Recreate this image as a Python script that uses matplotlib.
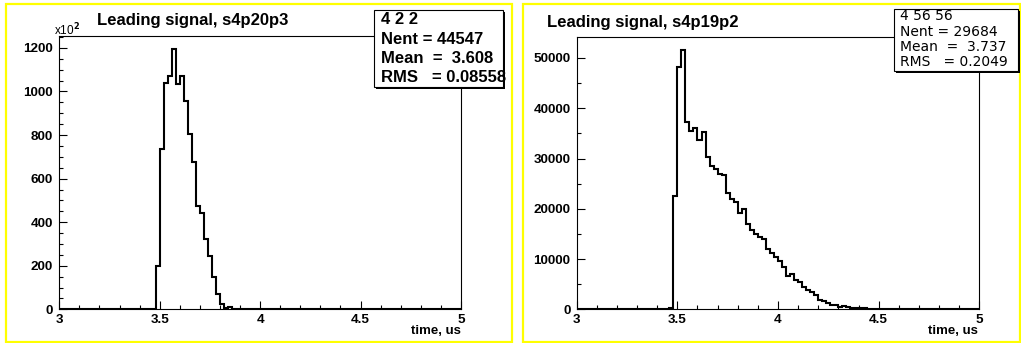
import matplotlib.pyplot as plt
import numpy as np
from matplotlib.patches import Rectangle
from matplotlib.ticker import MultipleLocator

plt.rcParams['font.family'] = ['Liberation Sans', 'DejaVu Sans']
plt.rcParams['font.weight'] = 'bold'

W, H = 1021, 343

# 100 bins of 0.02 us between 3 and 5 us
t_lo, t_hi, n_bins = 3.0, 5.0, 100

# s4p20p3, counts in units of 1e2, first filled bin starts at 3.48 us
left_start = 3.48
left_counts = [200, 735, 1040, 1070, 1195, 1034, 1070, 958, 805, 674,
               474, 442, 322, 243, 148, 72, 25, 6, 10]
left_tail_t = [4.42, 4.46]
left_tail_counts = [3, 3]
left_stats = ["4 2 2", "Nent = 44547", "Mean  =  3.608", "RMS   = 0.08558"]

# s4p19p2, first filled bin starts at 3.46 us
right_start = 3.46
right_counts = [300, 22580, 48200, 51650, 37250, 35480, 36150, 33760, 35290, 30320,
                28530, 27870, 26880, 26680, 23100, 22000, 21300, 19250, 20000, 16900,
                15700, 15000, 14300, 13950, 11950, 11120, 10500, 9670, 8340, 6690,
                7020, 5830, 5360, 4500, 3840, 3380, 2850, 1850, 1650, 1190,
                930, 800, 530, 660, 460, 330, 265, 200, 200, 150,
                150, 130, 120, 100, 100, 80, 60, 40, 30, 20]
right_tail_t = [4.76]
right_tail_counts = [80]
right_stats = ["4 56 56", "Nent = 29684", "Mean  =  3.737", "RMS   = 0.2049"]


def fill(start, counts, tail_t, tail_counts):
    edges = np.linspace(t_lo, t_hi, n_bins + 1)
    vals = np.zeros(n_bins)
    i0 = int(round((start - t_lo) / 0.02))
    vals[i0:i0 + len(counts)] = counts
    for t, c in zip(tail_t, tail_counts):
        vals[int(round((t - t_lo) / 0.02))] = c
    return edges, vals


def px_axes(fig, x0, y0, x1, y1):
    return fig.add_axes([x0 / W, 1 - y1 / H, (x1 - x0) / W, (y1 - y0) / H])


def frame(fig, x0, y0, x1, y1):
    fig.add_artist(Rectangle((x0 / W, 1 - y1 / H), (x1 - x0) / W, (y1 - y0) / H,
                             transform=fig.transFigure, fill=False,
                             ec='#ffff00', lw=1.6, zorder=1))


def stats_box(fig, x0, y0, x1, y1, lines, tx, ty, dy, size, weight, family):
    fig.add_artist(Rectangle(((x0 + 2) / W, 1 - (y1 + 2) / H), (x1 - x0) / W, (y1 - y0) / H,
                             transform=fig.transFigure, fc='black', ec='none', zorder=5))
    fig.add_artist(Rectangle((x0 / W, 1 - y1 / H), (x1 - x0) / W, (y1 - y0) / H,
                             transform=fig.transFigure, fc='white', ec='black',
                             lw=0.8, zorder=6))
    for k, s in enumerate(lines):
        fig.text(tx / W, 1 - (ty + k * dy) / H, s, ha='left', va='center',
                 fontsize=size, fontweight=weight, family=family, zorder=7)


def style_axes(ax, ymax, ymajor, yminor):
    ax.set_xlim(t_lo, t_hi)
    ax.set_ylim(0, ymax)
    ax.xaxis.set_major_locator(MultipleLocator(0.5))
    ax.xaxis.set_minor_locator(MultipleLocator(0.1))
    ax.yaxis.set_major_locator(MultipleLocator(ymajor))
    ax.yaxis.set_minor_locator(MultipleLocator(yminor))
    ax.xaxis.set_major_formatter(plt.FuncFormatter(lambda v, p: f"{v:g}"))
    ax.tick_params(which='both', direction='in', top=False, right=False,
                   labelsize=9.7, width=0.8, pad=4.5)
    ax.tick_params(axis='x', pad=3.5)
    ax.tick_params(which='major', length=5.8)
    ax.tick_params(which='minor', length=3.2)
    for sp in ax.spines.values():
        sp.set_linewidth(0.8)


fig = plt.figure(figsize=(W / 100, H / 100), dpi=100)

frame(fig, 5.5, 3.5, 511.5, 341.5)
frame(fig, 522.5, 3.5, 1019.5, 341.5)

# left panel
ax1 = px_axes(fig, 59.3, 36, 461, 309.3)
edges, vals = fill(left_start, left_counts, left_tail_t, left_tail_counts)
ax1.stairs(vals, edges, color='black', lw=1.5)
style_axes(ax1, max(left_counts) * 1.05, 200, 50)
fig.text(97 / W, 1 - 20 / H, "Leading signal, s4p20p3", fontsize=12,
         fontweight='bold', ha='left', va='center')
fig.text(54 / W, 1 - 29.5 / H, r"x10$^{2}$", fontsize=8.5, fontweight='normal',
         ha='left', va='center')
fig.text(461 / W, 1 - 331.5 / H, "time, us", fontsize=9.5, ha='right', va='center')
stats_box(fig, 373.5, 10, 502.5, 87.5, left_stats, 380.5, 20, 19.2, 12, 'bold',
          ['Liberation Sans'])

# right panel
ax2 = px_axes(fig, 576.7, 36.7, 979.3, 309.3)
edges, vals = fill(right_start, right_counts, right_tail_t, right_tail_counts)
ax2.stairs(vals, edges, color='black', lw=1.5)
style_axes(ax2, max(right_counts) * 1.05, 10000, 5000)
fig.text(547 / W, 1 - 22.5 / H, "Leading signal, s4p19p2", fontsize=12,
         fontweight='bold', ha='left', va='center')
fig.text(978 / W, 1 - 331 / H, "time, us", fontsize=9.5, ha='right', va='center')
stats_box(fig, 893.5, 9, 1017.5, 70.5, right_stats, 899.5, 16.3, 15.3, 10, 'normal',
          ['DejaVu Sans'])

for ax in (ax1, ax2):
    for lab in ax.get_xticklabels() + ax.get_yticklabels():
        lab.set_fontweight('bold')

fig.savefig("out.png", dpi=100)
